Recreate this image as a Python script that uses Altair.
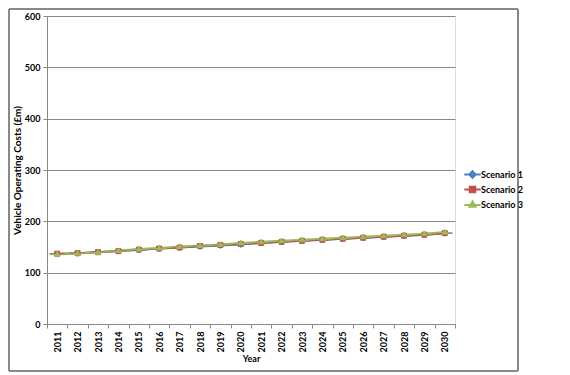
import altair as alt
import pandas as pd

years = ["2011", "2012", "2013", "2014", "2015", "2016", "2017", "2018", "2019", "2020",
         "2021", "2022", "2023", "2024", "2025", "2026", "2027", "2028", "2029", "2030"]
scenario1 = [136, 138, 140, 142, 144, 147, 149, 151, 153, 155, 158, 160, 162, 164, 166, 168, 170, 172, 174, 177]
scenario2 = [137, 138, 140, 142, 145, 147, 149, 152, 154, 156, 158, 160, 162, 164, 166, 168, 170, 172, 174, 177]
scenario3 = [136, 138, 140, 143, 146, 148, 151, 153, 155, 158, 160, 162, 164, 166, 168, 170, 172, 174, 176, 179]
series_names = ["Scenario 1", "Scenario 2", "Scenario 3"]
colors = ["#4F81BD", "#C0504D", "#9BBB59"]
shapes = [
    "M-3,0H3M0,-1.2L1.2,0L0,1.2L-1.2,0Z",
    "M-3,0H3M-1,-1H1V1H-1Z",
    "M-3,0.2H3M0,-1.1L1.1,0.8H-1.1Z",
]

rows = []
for name, vals in zip(series_names, [scenario1, scenario2, scenario3]):
    for yr, v in zip(years, vals):
        rows.append({"Year": yr, "Value": v, "Series": name})
df = pd.DataFrame(rows)

FONT = "Lato"
NARROW = "'Liberation Sans Narrow', Lato"

x = alt.X("Year:N", sort=years,
          scale=alt.Scale(type="band", paddingInner=0, paddingOuter=0),
          axis=alt.Axis(title="Year", labelAngle=-90, tickBand="extent",
                        labelFontWeight="bold", labelFontSize=9, titleFontSize=9,
                        titleFontWeight="bold", domainColor="#888888", tickColor="#888888",
                        tickSize=4, labelPadding=3, titlePadding=3, grid=False,
                        labelColor="#000000", titleColor="#000000"))
y = alt.Y("Value:Q", scale=alt.Scale(domain=[0, 600]),
          axis=alt.Axis(title="Vehicle Operating Costs (£m)", values=[0, 100, 200, 300, 400, 500, 600],
                        labelFontWeight="bold", labelFontSize=9, titleFontSize=10,
                        titleFontWeight="bold", domainColor="#888888", tickColor="#888888",
                        gridColor="#888888", tickSize=4, labelPadding=3, titlePadding=2,
                        labelColor="#000000", titleColor="#000000"))

cscale = alt.Scale(domain=series_names, range=colors)
leg = alt.Legend(title=None, orient="none", legendX=421, legendY=154,
                 labelFont=NARROW, labelFontWeight="bold", labelFontSize=9,
                 labelColor="#000000", symbolSize=30, symbolStrokeWidth=2,
                 rowPadding=0, labelOffset=4)

lines = alt.Chart(df).mark_line(strokeWidth=2).encode(
    x=x, y=y,
    color=alt.Color("Series:N", scale=cscale, legend=leg),
)

pts = alt.Chart(df).mark_point(filled=True, size=25, opacity=1, strokeWidth=1).encode(
    x=x, y=y,
    color=alt.Color("Series:N", scale=cscale, legend=leg),
    stroke=alt.Stroke("Series:N", scale=cscale, legend=leg),
    shape=alt.Shape("Series:N", scale=alt.Scale(domain=series_names, range=shapes), legend=leg),
)

frame = alt.Chart(df).mark_rect(fill=None, stroke="#888888", strokeWidth=1).encode(
    x=alt.value(-38), x2=alt.value(471), y=alt.value(-7), y2=alt.value(355)
)

chart = alt.layer(lines, pts, frame).properties(
    width=408, height=308, padding=0
).configure_view(stroke=None).configure(font=FONT)

chart.save("out.html", embed_options={"renderer": "svg", "actions": False})
